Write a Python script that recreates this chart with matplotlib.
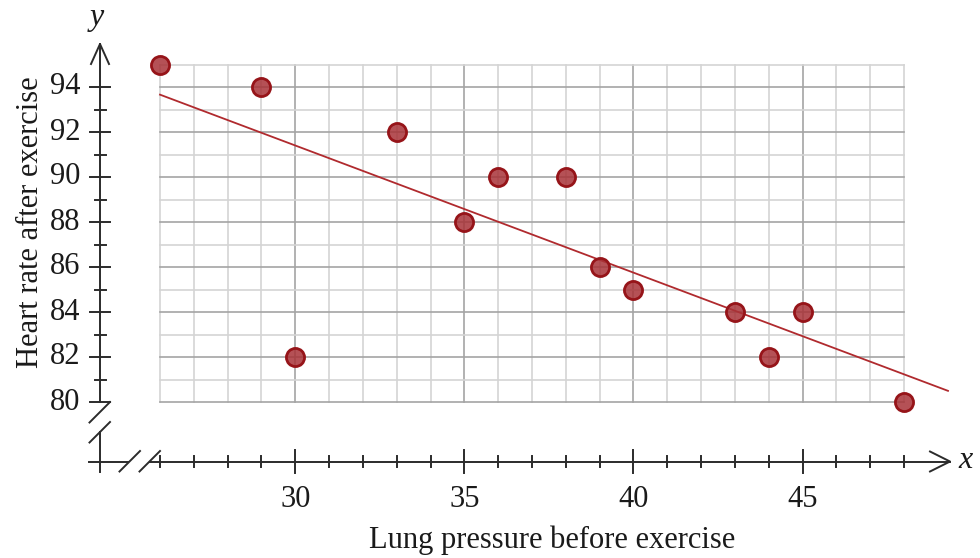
import numpy as np
import matplotlib
matplotlib.use("Agg")
import matplotlib.pyplot as plt

# Data
lung_pressure = [26, 29, 30, 33, 35, 36, 38, 39, 40, 43, 44, 45, 48]
heart_rate = [95, 94, 82, 92, 88, 90, 90, 86, 85, 84, 82, 84, 80]

# Line of best fit as drawn in the picture
fit_slope = -0.565
fit_intercept = 108.35
fit_x_range = [26, 49.3]

x_ticks_labelled = [30, 35, 40, 45]
y_ticks_labelled = [80, 82, 84, 86, 88, 90, 92, 94]
x_label = "Lung pressure before exercise"
y_label = "Heart rate after exercise"

# Pixel layout of the original image (980x558)
W, H = 980, 558
PX_X = 33.82          # pixels per x unit
PX_Y = 22.5           # pixels per y unit
X0_PX, Y0_PX = 160, 402   # pixel position of (26, 80)


def dx(px):
    """pixel column -> data x"""
    return 26 + (px - X0_PX) / PX_X


def dy(py):
    """pixel row -> data y"""
    return 80 - (py - Y0_PX) / PX_Y


SERIF = ["Liberation Serif", "DejaVu Serif"]
FS = 22
TXT_COL = "#1a1a1a"
AX_COL = "#2b2b2b"
AX_LW = 1.4

fig = plt.figure(figsize=(W / 100, H / 100), dpi=100)
ax = fig.add_axes([0, 0, 1, 1])
ax.set_xlim(dx(0), dx(W))
ax.set_ylim(dy(H), dy(0))
ax.axis("off")

# Grid
gx0, gx1 = 26, 48
gy0, gy1 = 80, 95
for x in range(gx0, gx1 + 1):
    major = x % 5 == 0
    ax.plot([x, x], [gy0, gy1], color="#a4a4a4" if major else "#d4d4d4",
            lw=1.2, zorder=1)
for y in range(gy0, gy1 + 1):
    major = y % 2 == 0
    ax.plot([gx0, gx1], [y, y], color="#a4a4a4" if major else "#d4d4d4",
            lw=1.2, zorder=1)

# Axes lines positions
ax_x = dx(100)      # y axis column
ax_y = dy(461.5)    # x axis row

# y axis: upper part with arrow
ax.plot([ax_x, ax_x], [80, dy(44)], color=AX_COL, lw=AX_LW, zorder=3)
ax.plot([dx(91), ax_x, dx(109)], [dy(64), dy(44), dy(64)], color=AX_COL,
        lw=AX_LW, zorder=3)
# y axis: lower part
ax.plot([ax_x, ax_x], [dy(432), dy(472)], color=AX_COL, lw=AX_LW, zorder=3)
# y break slashes
for off in (0, 20):
    ax.plot([dx(110), dx(89.5)], [dy(402 + off), dy(422.5 + off)],
            color=AX_COL, lw=AX_LW, zorder=3)

# x axis: left stub and main part with arrow
ax.plot([dx(89), dx(128)], [ax_y, ax_y], color=AX_COL, lw=AX_LW, zorder=3)
ax.plot([dx(150), dx(950)], [ax_y, ax_y], color=AX_COL, lw=AX_LW, zorder=3)
ax.plot([dx(930), dx(950), dx(930)], [dy(451.5), ax_y, dy(471.5)],
        color=AX_COL, lw=AX_LW, zorder=3)
# x break slashes
for off in (0, 20):
    ax.plot([dx(119.5 + off), dx(140 + off)], [dy(471.5), dy(451)],
            color=AX_COL, lw=AX_LW, zorder=3)

# x ticks
for x in range(26, 49):
    half = 11 if x % 5 == 0 else 5
    ax.plot([x, x], [ax_y - half / PX_Y, ax_y + half / PX_Y],
            color=AX_COL, lw=AX_LW, zorder=3)
# y ticks
for y in range(80, 95):
    half = 10 if y % 2 == 0 else 5.5
    ax.plot([ax_x - half / PX_X, ax_x + half / PX_X], [y, y],
            color=AX_COL, lw=AX_LW, zorder=3)

# Tick labels
for y in y_ticks_labelled:
    ax.text(dx(80), y, str(y), ha="right", va="center", fontsize=FS,
            family=SERIF, color=TXT_COL)
for x in x_ticks_labelled:
    ax.text(x, dy(500), str(x), ha="center", va="center", fontsize=FS,
            family=SERIF, color=TXT_COL)

# Axis titles
ax.text(dx(552), dy(540), x_label, ha="center", va="center", fontsize=FS,
        family=SERIF, color=TXT_COL)
ax.text(dx(30), dy(222), y_label, ha="center", va="center", fontsize=FS,
        family=SERIF, rotation=90, color=TXT_COL)
ax.text(dx(97), dy(18), "y", ha="center", va="center", fontsize=FS + 1,
        family=SERIF, style="italic", color=TXT_COL)
ax.text(dx(966), dy(460), "x", ha="center", va="center", fontsize=FS + 1,
        family=SERIF, style="italic", color=TXT_COL)

# Line of best fit
fx = np.array(fit_x_range)
ax.plot(fx, fit_intercept + fit_slope * fx, color="#b02a2e", lw=1.3, zorder=4)

# Points
ax.scatter(lung_pressure, heart_rate, s=170, facecolor=(0.66, 0.2, 0.22, 0.85),
           edgecolor="#961419", linewidth=2.0, zorder=5, clip_on=False)

fig.savefig("out.png", dpi=100)
